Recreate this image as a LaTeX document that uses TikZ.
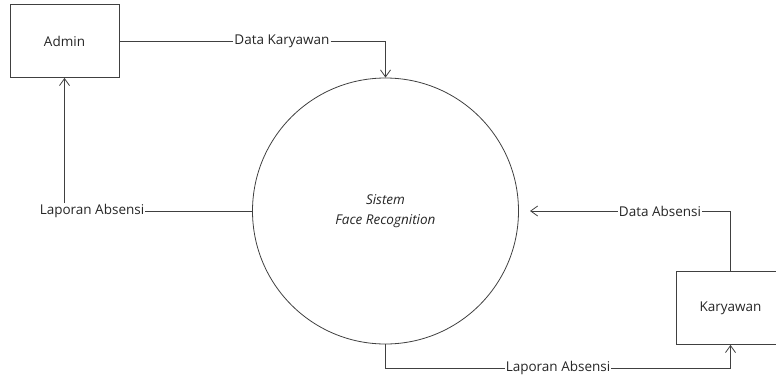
\documentclass[tikz,border=0pt]{standalone}
\usepackage{fontspec}
\setmainfont{Open Sans}
\usetikzlibrary{arrows.meta}
\begin{document}
\begin{tikzpicture}[x=1pt,y=1pt,>={Straight Barb[length=7pt,width=10pt]},
    line/.style={draw=black!75,line width=0.8pt},
    entity/.style={line,minimum width=109pt,minimum height=73pt,font=\fontsize{13.5}{15}\selectfont,text=black!85},
    proc/.style={line,circle,minimum size=266pt,font=\itshape\fontsize{13.5}{20}\selectfont,align=center,text=black!85},
    flow/.style={inner sep=1pt,font=\fontsize{13.5}{15}\selectfont,text=black!85}]
\useasboundingbox (0,0) rectangle (776,376);
\node[entity](admin) at (64.5,335){Admin};
\node[entity](kary) at (730.5,68){Karyawan};
\node[proc](sys) at (385.5,165){Sistem\\Face Recognition};
\node[flow](dk) at (282,335){Data Karyawan};
\node[flow](la) at (92,165){Laporan Absensi};
\node[flow](da) at (660,165){Data Absensi};
\node[flow](lb) at (558,8){Laporan Absensi};
\coordinate (daend) at (530,165);
\draw[line](admin)--(dk);
\draw[line,->](dk)--(dk-|sys)--(sys);
\draw[line](sys)--(la);
\draw[line,->](la.north-|admin)--(admin);
\draw[line](kary)--(kary|-da)--(da);
\draw[line,->](da)--(daend);
\draw[line](sys)--(sys|-lb)--(lb);
\draw[line,->](lb)--(lb-|kary)--(kary);
\end{tikzpicture}
\end{document}
